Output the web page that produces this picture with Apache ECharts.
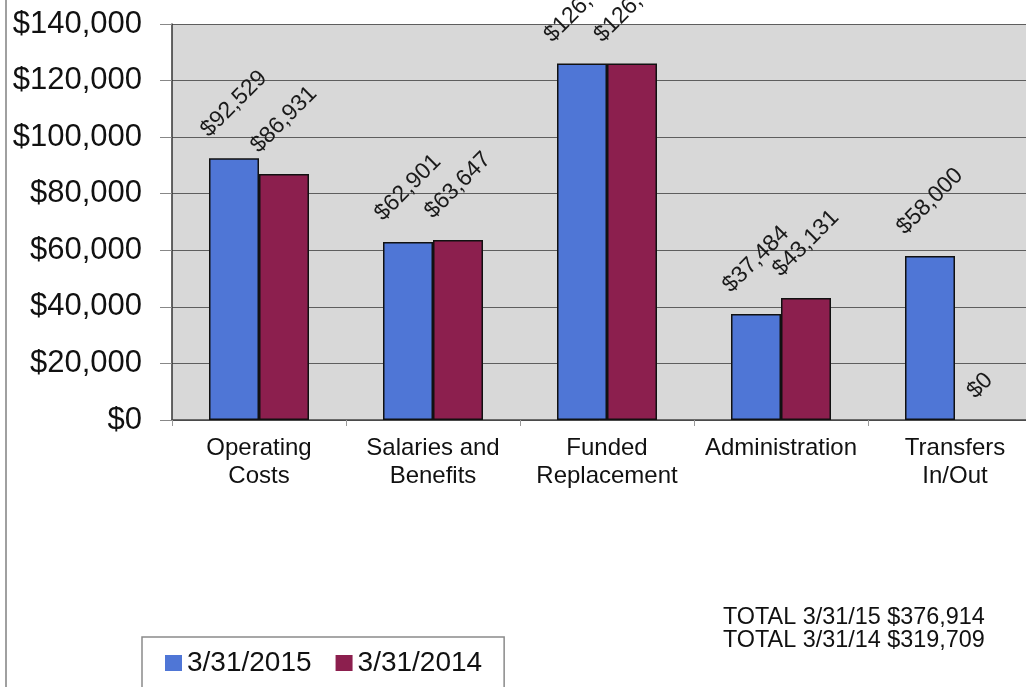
<!DOCTYPE html>
<html>
<head>
<meta charset="utf-8">
<script src="https://cdn.jsdelivr.net/npm/echarts@6/dist/echarts.min.js"></script>
<style>
  html, body { margin: 0; padding: 0; background: #fff; }
  #chart { width: 1026px; height: 687px; }
</style>
</head>
<body>
<div id="chart"></div>
<script>
var categories = ['Operating\nCosts', 'Salaries and\nBenefits', 'Funded\nReplacement', 'Administration', 'Transfers\nIn/Out'];
var seriesNames = ['3/31/2015', '3/31/2014'];
var values2015 = [92529, 62901, 126000, 37484, 58000];
var values2014 = [86931, 63647, 126000, 43131, 0];
var totals = ['TOTAL 3/31/15 $376,914', 'TOTAL 3/31/14 $319,709'];

var font = '"Liberation Sans", Arial, sans-serif';

function money(v) {
    return '$' + Number(v).toLocaleString('en-US');
}

// put rotated labels centred over the bar, with a fixed gap under their box
function placeLabel(p) {
    return {
        x: p.rect.x + p.rect.width / 2,
        y: p.rect.y - 17 - p.labelRect.height / 2,
        align: 'center',
        verticalAlign: 'middle'
    };
}

function barSeries(name, data, color) {
    // a zero bar shows no outline in the original
    var items = data.map(function (v) {
        return v === 0 ? { value: v, itemStyle: { borderWidth: 0 } } : v;
    });
    return {
        name: name,
        type: 'bar',
        data: items,
        barWidth: 50,
        barGap: '0%',
        itemStyle: { color: color, borderColor: '#111', borderWidth: 1.5 },
        label: {
            show: true,
            position: 'top',
            rotate: 45,
            fontFamily: font,
            fontSize: 23,
            color: '#1a1a1a',
            formatter: function (p) { return money(p.value); }
        },
        labelLayout: placeLabel
    };
}

var myChart = echarts.init(document.getElementById('chart'));

myChart.setOption({
    backgroundColor: '#fff',
    animation: false,
    grid: {
        left: 172, top: 24, width: 870, bottom: 267,
        outerBoundsMode: 'none',
        show: true, backgroundColor: '#d8d8d8', borderWidth: 0
    },
    legend: {
        data: seriesNames,
        left: 142, top: 637,
        orient: 'horizontal',
        icon: 'rect',
        itemWidth: 17, itemHeight: 16, itemGap: 24,
        padding: [12, 22, 30, 23],
        borderColor: '#8a8a8a', borderWidth: 1.5,
        itemStyle: { borderWidth: 0 },
        textStyle: { fontFamily: font, fontSize: 28, color: '#111' }
    },
    xAxis: {
        type: 'category',
        data: categories,
        axisLine: { lineStyle: { color: '#444', width: 1.5 } },
        axisTick: { show: true, length: 6, lineStyle: { color: '#999' } },
        axisLabel: { fontFamily: font, fontSize: 24, lineHeight: 28, margin: 14, color: '#111', interval: 0 }
    },
    yAxis: {
        type: 'value',
        min: 0, max: 140000, interval: 20000,
        axisLine: { show: true, lineStyle: { color: '#333', width: 1.5 } },
        axisTick: { show: true, length: 12, lineStyle: { color: '#888' } },
        splitLine: { lineStyle: { color: '#5e5e5e', width: 1 } },
        axisLabel: { fontFamily: font, fontSize: 31, margin: 30, color: '#111', formatter: money }
    },
    graphic: [
        {
            type: 'line',
            shape: { x1: 6, y1: 0, x2: 6, y2: 687 },
            style: { stroke: '#a0a0a0', lineWidth: 2 }
        },
        {
            type: 'text',
            left: 723, top: 606,
            style: {
                text: totals.join('\n'),
                font: '23.4px ' + font,
                lineHeight: 23,
                fill: '#111'
            }
        }
    ],
    series: [
        barSeries(seriesNames[0], values2015, '#4f76d6'),
        barSeries(seriesNames[1], values2014, '#8c1f4e')
    ]
});
</script>
</body>
</html>
